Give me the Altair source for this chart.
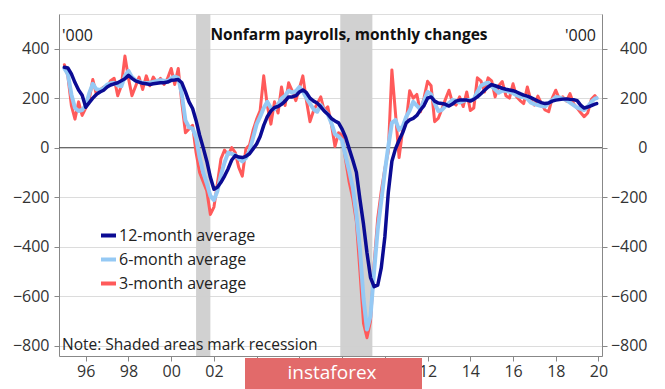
import altair as alt
import pandas as pd

# ---------------- data (bi-monthly) ----------------
years = list(range(1995, 2020))
months = [1, 3, 5, 7, 9, 11]
dates = [f"{y}-{m:02d}-01" for y in years for m in months] + ["2019-12-01"]

avg3 = [
    335, 290, 170, 115, 185, 130,     # 1995
    160, 195, 275, 215, 232, 245,     # 1996
    245, 270, 280, 210, 250, 370,     # 1997
    280, 210, 247, 285, 235, 290,     # 1998
    250, 285, 262, 280, 255, 280,     # 1999
    320, 255, 320, 180, 60, 75,       # 2000
    90, -20, -100, -138, -175, -270,  # 2001
    -240, -145, -45, -10, -29, 0,     # 2002
    -20, -80, -115, -5, 10, 70,       # 2003
    115, 150, 290, 170, 95, 185,      # 2004
    140, 245, 170, 262, 228, 190,     # 2005
    240, 290, 190, 105, 150, 178,     # 2006
    205, 150, 165, 95, 5, 60,         # 2007
    50, -50, -140, -205, -300, -500,  # 2008
    -710, -768, -700, -470, -285, -175,  # 2009
    -85, -15, 314, 140, -40, 70,      # 2010
    105, 230, 200, 215, 145, 200,     # 2011
    268, 250, 105, 118, 155, 195,     # 2012
    232, 182, 172, 205, 166, 225,     # 2013
    150, 160, 282, 270, 225, 282,     # 2014
    270, 205, 250, 267, 210, 200,     # 2015
    258, 206, 190, 178, 245, 192,     # 2016
    172, 208, 178, 152, 145, 200,     # 2017
    232, 198, 205, 188, 218, 178,     # 2018
    160, 142, 125, 140, 195, 210,     # 2019
    200,
]

avg6 = [
    320, 298, 215, 160, 148, 152,
    170, 220, 258, 236, 233, 240,
    255, 260, 262, 252, 248, 290,
    310, 285, 272, 267, 262, 260,
    262, 266, 270, 272, 270, 268,
    280, 287, 282, 215, 110, 82,
    78, 40, -40, -100, -145, -195,
    -212, -175, -110, -60, -20, -25,
    -30, -45, -56, -42, -12, 40,
    95, 125, 160, 185, 160, 155,
    175, 198, 210, 230, 222, 228,
    245, 228, 200, 178, 155, 145,
    172, 150, 135, 100, 55, 45,
    30, -35, -95, -160, -270, -410,
    -610, -735, -680, -500, -330, -215,
    -95, 5, 100, 112, 72, 85,
    125, 150, 185, 170, 155, 190,
    225, 215, 180, 148, 152, 168,
    180, 193, 188, 182, 188, 193,
    192, 195, 225, 250, 258, 262,
    248, 235, 222, 230, 230, 225,
    220, 212, 206, 205, 198, 182,
    176, 172, 168, 166, 180, 192,
    205, 203, 198, 192, 182, 172,
    162, 157, 152, 165, 185, 198,
    200,
]

avg12 = [
    325, 322, 298, 263, 233, 212,
    163, 182, 200, 215, 225, 232,
    245, 253, 258, 262, 270, 278,
    292, 280, 270, 265, 260, 258,
    255, 258, 260, 262, 262, 265,
    272, 273, 275, 262, 225, 185,
    158, 110, 50, 0, -55, -120,
    -168, -160, -140, -115, -85, -50,
    -32, -38, -40, -35, -25, -5,
    15, 45, 90, 125, 148, 162,
    166, 175, 188, 205, 205, 210,
    225, 233, 222, 200, 188, 180,
    165, 148, 135, 118, 108, 100,
    75, 42, -5, -50, -100, -210,
    -310, -425, -525, -562, -556, -485,
    -360, -180, -55, -5, 30, 60,
    100, 112, 118, 130, 152, 170,
    200, 205, 188, 180, 178, 175,
    168, 176, 188, 192, 193, 192,
    188, 195, 205, 218, 232, 245,
    255, 250, 245, 240, 236, 233,
    230, 225, 218, 212, 208, 202,
    195, 188, 182, 178, 180, 188,
    192, 194, 196, 197, 195, 194,
    190, 172, 160, 164, 170, 176,
    178,
]

series_names = ["12-month average", "6-month average", "3-month average"]
series_colors = ["#0b0b93", "#95c9f4", "#ff5a5a"]

rec_start = ["2001-03-01", "2007-12-01"]
rec_end = ["2001-11-01", "2009-06-01"]

y_ticks = [-800, -600, -400, -200, 0, 200, 400]
x_tick_years = list(range(1996, 2021, 2))

FONT = "Open Sans"

# ---------------- scales / axes ----------------
x_scale = alt.Scale(domain=["1994-10-01", "2020-03-01"])
x_axis = alt.Axis(
    values=[alt.DateTime(year=y, month=1, date=1) for y in x_tick_years],
    format="%y", title=None, grid=False, tickSize=5, labelPadding=2,
    labelExpr="(year(datum.value) >= 2004 && year(datum.value) <= 2010) ? '' : datum.label",
    labelFontSize=16, labelColor="#333", domainColor="#888", tickColor="#888",
    labelFont=FONT,
)
y_scale = alt.Scale(domain=[-842, 540], nice=False, zero=False)
y_axis_left = alt.Axis(
    orient="left", values=y_ticks, title=None, grid=True, gridColor="#dcdcdc",
    tickSize=5, labelPadding=5, labelFontSize=16, labelColor="#333",
    domainColor="#888", tickColor="#888", labelFont=FONT,
)
y_axis_right = alt.Axis(
    orient="right", values=y_ticks, title=None, grid=False, tickSize=5,
    labelPadding=40, labelAlign="right", labelFontSize=16, labelColor="#333",
    domainColor="#888", tickColor="#888", labelFont=FONT,
)

color_enc = alt.Color(
    "series:N",
    scale=alt.Scale(domain=series_names, range=series_colors),
    legend=alt.Legend(
        orient="none", legendX=40, legendY=212, title=None,
        symbolType="stroke", symbolStrokeWidth=4, symbolSize=225,
        labelFontSize=16, labelColor="#222", labelFont=FONT,
        rowPadding=6, labelOffset=1, padding=0, symbolOpacity=1,
    ),
)

def series_df(vals, name):
    return pd.DataFrame({"date": dates, "value": vals, "series": name})

# ---------------- layers ----------------
rec = alt.Chart(pd.DataFrame({"start": rec_start, "end": rec_end})).mark_rect(
    color="#cfcfcf", opacity=0.95
).encode(
    x=alt.X("start:T", scale=x_scale, axis=x_axis),
    x2="end:T",
)

zero = alt.Chart(pd.DataFrame({"z": [0]})).mark_rule(color="#555", strokeWidth=1).encode(
    y=alt.Y("z:Q", scale=y_scale, axis=None)
)

def line(vals, name, width, axis):
    return alt.Chart(series_df(vals, name)).mark_line(
        strokeWidth=width, strokeJoin="round", strokeCap="round"
    ).encode(
        x=alt.X("date:T", scale=x_scale, axis=x_axis),
        y=alt.Y("value:Q", scale=y_scale, axis=axis),
        color=color_enc,
    )

red = line(avg3, "3-month average", 3, y_axis_left)
blue = line(avg6, "6-month average", 4, None)
navy = line(avg12, "12-month average", 3.5, y_axis_right)

def text_layer(t, x, y, **kw):
    return alt.Chart(pd.DataFrame({"t": [t]})).mark_text(font=FONT, **kw).encode(
        x=alt.value(x), y=alt.value(y), text="t:N"
    )

title = text_layer("Nonfarm payrolls, monthly changes", 290, 21,
                   fontSize=15.5, fontWeight="bold", align="center", baseline="middle", color="#111")
k_left = text_layer("'000", 3, 22, fontSize=16, align="left", baseline="middle", color="#222")
k_right = text_layer("'000", 537, 22, fontSize=16, align="right", baseline="middle", color="#222")
note = text_layer("Note: Shaded areas mark recession", 3, 331,
                  fontSize=15.5, align="left", baseline="middle", color="#222")

wm_rect = alt.Chart(pd.DataFrame({"t": ["instaforex"]})).mark_rect(color="#e26a6a").encode(
    x=alt.value(186), x2=alt.value(363), y=alt.value(344), y2=alt.value(380)
)
wm_text = text_layer("instaforex", 273, 359, fontSize=19, align="center",
                     baseline="middle", color="white")

chart = alt.layer(
    rec, zero, red, blue, navy, title, k_left, k_right, note, wm_rect, wm_text
).resolve_axis(y="independent").properties(
    width=543, height=342,
    autosize=alt.AutoSizeParams(type="none"),
    padding={"left": 51, "top": 6, "right": 55, "bottom": 33},
).configure_view(stroke=None).configure(font=FONT)

chart.save("out.html", embed_options={"renderer": "svg", "actions": False})
